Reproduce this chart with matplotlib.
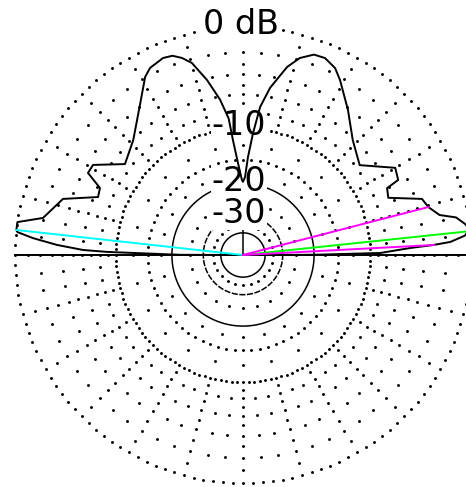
import numpy as np
import matplotlib
matplotlib.use('Agg')
import matplotlib.pyplot as plt

plt.rcParams['font.family'] = ['Liberation Sans Narrow', 'DejaVu Sans']

# elevation pattern, angle in degrees from the right-hand horizon, gain in dB
elev = [0.0, 0.2, 0.84, 2.4, 3.0, 3.6, 5.0, 6.5, 8.0, 10.0, 11.5, 14.5, 17.4,
        21.5, 24.9, 25.8, 29.8, 37.6, 46.3, 54.1, 61.0, 63.8, 67.4, 70.5,
        73.9, 76.8, 80.8, 83.4, 85.3, 87.1, 88.5, 90.0, 90.8, 93.1, 95.0,
        96.0, 98.4, 101.6, 104.9, 107.2, 109.5, 112.1, 116.4, 118.8, 124.5,
        133.7, 142.4, 149.0, 152.1, 154.9, 158.2, 162.7, 169.5, 171.7, 173.7,
        174.2, 175.4, 176.9, 178.2, 178.7, 179.8, 180.0]
gain = [-60.0, -20.0, -8.7, -5.3, -3.1, -1.6, -0.4, 0.0, -0.3, -0.9, -2.2,
        -3.0, -3.35, -6.5, -6.2, -4.8, -4.5, -7.5, -6.2, -4.15, -2.24, -1.54,
        -1.14, -1.2, -1.82, -2.85, -5.1, -7.3, -10.7, -14.5, -18.4, -19.5,
        -19.1, -15.6, -11.7, -8.7, -6.4, -4.2, -2.36, -1.72, -1.3, -1.2, -1.5,
        -1.98, -3.87, -6.2, -7.3, -4.55, -4.5, -6.3, -6.5, -3.26, -1.96, 0.0,
        0.0, -0.1, -1.35, -3.47, -6.07, -8.9, -22.0, -60.0]

# cursor lines
cursor_elev = [173.7, 6.0]
cursor_gain = [0.0, 0.0]
cursor_color = ['#00ffff', '#00ff00']
half_power_elev = [3.0, 14.5]
half_power_gain = [-3.0, -3.0]

ring_db = [0, -10, -20, -30]
ring_text = ['0 dB', '-10', '-20', '-30']

R = 228.0


def to_r(db):
    # ARRL log scale
    return R * 0.89 ** (-np.asarray(db, dtype=float) / 2)


def xy(angle_deg, db):
    a = np.radians(np.asarray(angle_deg, dtype=float))
    r = to_r(db)
    return r * np.cos(a), r * np.sin(a)


fig = plt.figure(figsize=(4.66, 4.87), dpi=100)
ax = fig.add_axes([0, 0, 1, 1])
ax.set_xlim(-243, 223)
ax.set_ylim(-232, 255)
ax.axis('off')

# dotted grid: radials every 5 deg, dots on dB rings
gx, gy = [], []
for a in range(0, 360, 5):
    if a % 15 == 0:
        rings = [-1, -2, -3, -4, -5, -6, -7, -8, -9, -12.5, -17.5, -25, -35]
    else:
        rings = [-2, -4, -6, -8]
    x, y = xy([a] * len(rings), rings)
    gx.extend(x)
    gy.extend(y)
for db, step in [(0, 2.5), (-10, 2.5), (-15, 5.0)]:
    t = np.arange(0, 360, step)
    x, y = xy(t, [db] * len(t))
    gx.extend(x)
    gy.extend(y)
ax.plot(gx, gy, 'o', color='black', ms=2.1, mew=0, zorder=1)

t = np.linspace(0, 360, 361)
for db, ls in [(-20, '-'), (-30, (0, (4, 1))), (-40, '-')]:
    x, y = xy(t, [db] * len(t))
    ax.plot(x, y, color='black', lw=1.1, ls=ls, zorder=2)

ax.plot([-R, R * 1.1], [0, 0], color='black', lw=1.4, zorder=2)
ax.plot([0, 0], [0, 85], color='black', lw=1.1, zorder=2)

for db, s in zip(ring_db, ring_text):
    r = to_r(db)
    xo = -2 if db == 0 else -4
    ax.text(xo, r + 2, s, ha='center', va='center', fontsize=24, color='black',
            zorder=3, bbox=dict(facecolor='white', edgecolor='none', pad=0.5))

px, py = xy(elev, gain)
ax.plot(px, py, color='black', lw=1.4, zorder=4)

for a, g, c in zip(cursor_elev, cursor_gain, cursor_color):
    x, y = xy([a], [g])
    ax.plot([0, x[0]], [0, y[0]], color=c, lw=1.4, zorder=5)
for a, g in zip(half_power_elev, half_power_gain):
    x, y = xy([a], [g])
    ax.plot([0, x[0]], [0, y[0]], color='#ff00ff', lw=1.4, zorder=5)

fig.savefig('out.png', dpi=100)
